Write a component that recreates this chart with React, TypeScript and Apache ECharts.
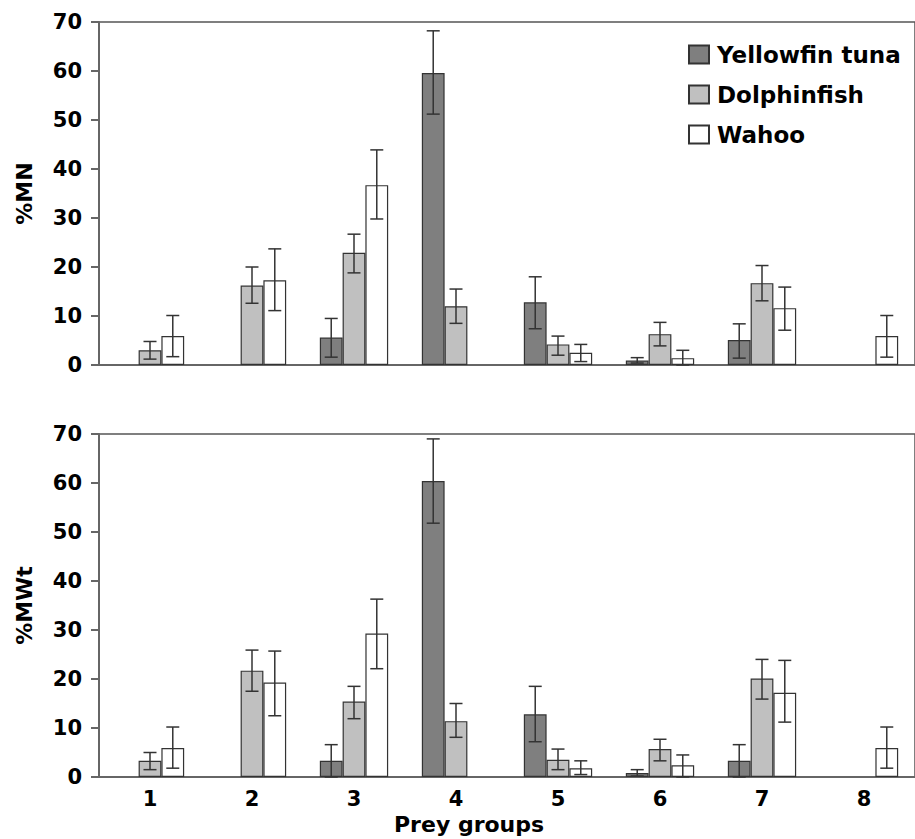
import React, { useEffect, useRef } from "react";
import * as echarts from "echarts";

const categories = ["1", "2", "3", "4", "5", "6", "7", "8"];
const yTicks = [0, 10, 20, 30, 40, 50, 60, 70];
const seriesNames = ["Yellowfin tuna", "Dolphinfish", "Wahoo"];

// Top panel: %MN
const mnYellowfin = [null, null, 5.6, 59.6, 12.8, 0.9, 5.1, null];
const mnYellowfinHi = [null, null, 9.5, 68.2, 18.0, 1.5, 8.4, null];
const mnYellowfinLo = [null, null, 1.6, 51.2, 7.4, 0.4, 1.4, null];
const mnDolphin = [3.0, 16.2, 22.9, 12.0, 4.2, 6.3, 16.7, null];
const mnDolphinHi = [4.8, 20.0, 26.7, 15.5, 5.9, 8.7, 20.3, null];
const mnDolphinLo = [1.2, 12.6, 18.8, 8.5, 2.0, 3.9, 13.1, null];
const mnWahoo = [5.9, 17.3, 36.7, null, 2.5, 1.4, 11.6, 5.9];
const mnWahooHi = [10.1, 23.7, 43.9, null, 4.2, 3.0, 15.9, 10.1];
const mnWahooLo = [1.7, 11.1, 29.8, null, 0.7, 0.0, 7.1, 1.6];

// Bottom panel: %MWt
const mwYellowfin = [null, null, 3.3, 60.4, 12.8, 0.8, 3.3, null];
const mwYellowfinHi = [null, null, 6.6, 69.0, 18.5, 1.5, 6.6, null];
const mwYellowfinLo = [null, null, 0.0, 51.8, 7.2, 0.2, 0.0, null];
const mwDolphin = [3.3, 21.7, 15.4, 11.4, 3.5, 5.7, 20.1, null];
const mwDolphinHi = [5.0, 25.9, 18.5, 15.0, 5.7, 7.7, 24.0, null];
const mwDolphinLo = [1.5, 17.5, 11.9, 8.1, 1.5, 3.3, 15.9, null];
const mwWahoo = [5.9, 19.3, 29.3, null, 1.8, 2.4, 17.2, 5.9];
const mwWahooHi = [10.2, 25.7, 36.3, null, 3.3, 4.5, 23.8, 10.2];
const mwWahooLo = [1.8, 12.5, 22.1, null, 0.5, 0.0, 11.2, 1.8];

const FONT = "DejaVu Sans";
const colors = ["#7f7f7f", "#c0c0c0", "#ffffff"];
const CAT_GAP = 0.33;

function errData(lo: (number | null)[], hi: (number | null)[]) {
  const out: number[][] = [];
  hi.forEach((h, i) => {
    if (h != null && lo[i] != null) out.push([i, lo[i] as number, h]);
  });
  return out;
}

function makeRenderer(pos: number) {
  return (params: any, api: any) => {
    const x = api.value(0);
    const lo = api.value(1);
    const hi = api.value(2);
    const band = api.size([1, 0])[0];
    const barW = (band * (1 - CAT_GAP)) / 3;
    const off = (pos - 1) * barW;
    const pLo = api.coord([x, lo]);
    const pHi = api.coord([x, hi]);
    const cx = pLo[0] + off;
    const cap = 6.5;
    const style = { stroke: "#333", lineWidth: 1.5 };
    return {
      type: "group",
      children: [
        { type: "line", shape: { x1: cx, y1: pLo[1], x2: cx, y2: pHi[1] }, style },
        { type: "line", shape: { x1: cx - cap, y1: pHi[1], x2: cx + cap, y2: pHi[1] }, style },
        { type: "line", shape: { x1: cx - cap, y1: pLo[1], x2: cx + cap, y2: pLo[1] }, style },
      ],
    };
  };
}

export default function App() {
  const ref = useRef<HTMLDivElement>(null);
  useEffect(() => {
    if (!ref.current) return;
    const chart = echarts.init(ref.current, undefined, { renderer: "svg" });

    const panels = [
      {
        vals: [mnYellowfin, mnDolphin, mnWahoo],
        his: [mnYellowfinHi, mnDolphinHi, mnWahooHi],
        los: [mnYellowfinLo, mnDolphinLo, mnWahooLo],
      },
      {
        vals: [mwYellowfin, mwDolphin, mwWahoo],
        his: [mwYellowfinHi, mwDolphinHi, mwWahooHi],
        los: [mwYellowfinLo, mwDolphinLo, mwWahooLo],
      },
    ];

    const series: any[] = [];
    panels.forEach((p, gi) => {
      p.vals.forEach((v, si) => {
        series.push({
          type: "bar",
          name: seriesNames[si],
          xAxisIndex: gi,
          yAxisIndex: gi,
          data: v,
          barGap: "0%",
          barCategoryGap: "33%",
          itemStyle: { color: colors[si], borderColor: "#333", borderWidth: 1.2 },
          z: 2,
        });
      });
      p.vals.forEach((v, si) => {
        series.push({
          type: "custom",
          name: seriesNames[si] + " error",
          xAxisIndex: gi,
          yAxisIndex: gi,
          data: errData(p.los[si], p.his[si]),
          encode: { x: 0, y: [1, 2] },
          renderItem: makeRenderer(si),
          z: 5,
          silent: true,
        });
      });
    });

    const yAxisBase = (name: string, gi: number) => ({
      type: "value",
      gridIndex: gi,
      min: yTicks[0],
      max: yTicks[yTicks.length - 1],
      interval: 10,
      name,
      nameLocation: "middle",
      nameGap: 64,
      nameRotate: 90,
      nameTextStyle: { fontFamily: FONT, fontWeight: "bold", fontSize: 22, color: "#000" },
      axisLine: { show: true, lineStyle: { color: "#666", width: 2 } },
      axisTick: { show: true, length: 8, lineStyle: { color: "#666", width: 2 } },
      axisLabel: { fontFamily: FONT, fontWeight: "bold", fontSize: 21, color: "#000", margin: 17 },
      splitLine: { show: false },
    });

    chart.setOption({
      animation: false,
      grid: [
        { left: 99, top: 22, width: 824, height: 343, show: true, borderColor: "#555", borderWidth: 1.5, backgroundColor: "transparent" },
        { left: 99, top: 434, width: 824, height: 343, show: true, borderColor: "#555", borderWidth: 1.5, backgroundColor: "transparent" },
      ],
      legend: {
        data: seriesNames,
        orient: "vertical",
        left: 683,
        top: 38,
        itemWidth: 20,
        itemHeight: 18,
        itemGap: 17,
        icon: "rect",
        textStyle: { fontFamily: FONT, fontWeight: "bold", fontSize: 23, color: "#000", lineHeight: 20, padding: [0, 0, 0, 3] },
        selectedMode: false,
      },
      xAxis: [
        {
          type: "category",
          gridIndex: 0,
          data: categories,
          axisLine: { show: true, lineStyle: { color: "#666", width: 2 } },
          axisTick: { show: false },
          axisLabel: { show: false },
        },
        {
          type: "category",
          gridIndex: 1,
          data: categories,
          axisLine: { show: true, lineStyle: { color: "#666", width: 2 } },
          axisTick: { show: false },
          axisLabel: { fontFamily: FONT, fontWeight: "bold", fontSize: 21, color: "#000", margin: 11 },
        },
      ],
      yAxis: [yAxisBase("%MN", 0), yAxisBase("%MWt", 1)],
      graphic: [
        {
          type: "text",
          left: 470 - 76,
          top: 813,
          style: { text: "Prey groups", fontFamily: FONT, fontWeight: "bold", fontSize: 22, fill: "#000" },
        },
      ],
      series,
    });

    return () => chart.dispose();
  }, []);

  return (
    <div
      ref={ref}
      style={{ position: "absolute", left: 0, top: 0, width: 915, height: 839, background: "#fff" }}
    />
  );
}
